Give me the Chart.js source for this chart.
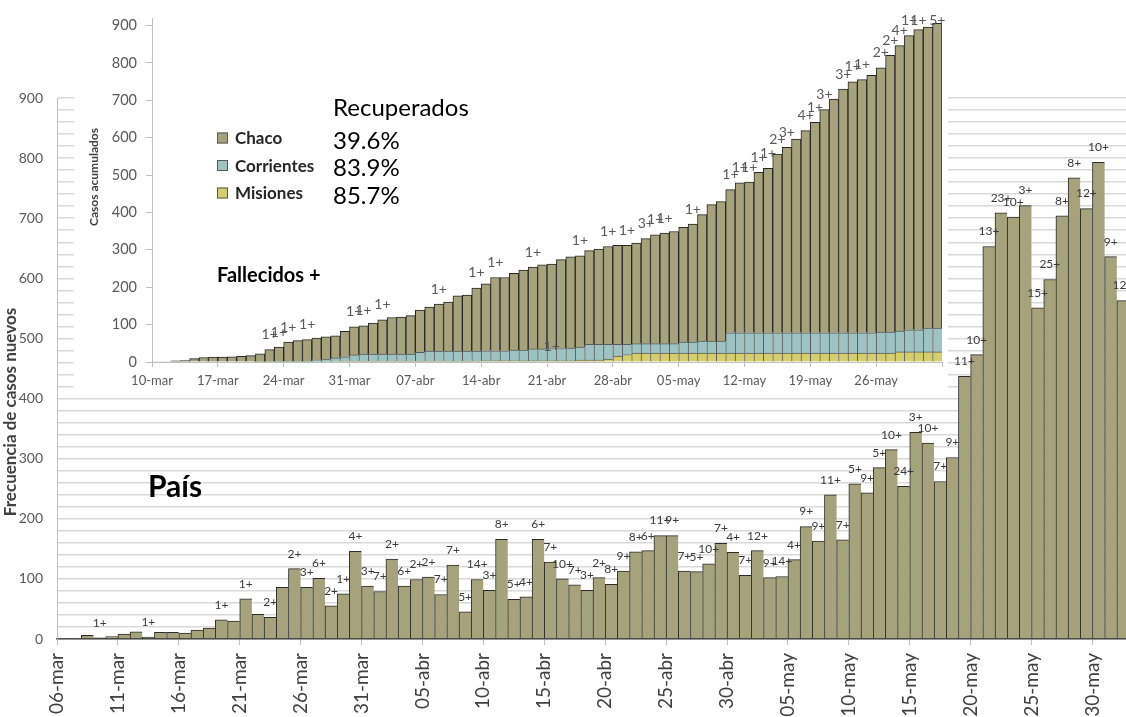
<!DOCTYPE html>
<html lang="es">
<head>
<meta charset="utf-8">
<title>Casos nuevos y acumulados</title>
<script src="https://cdn.jsdelivr.net/npm/chart.js@4.4.1/dist/chart.umd.min.js"></script>
<style>
  html, body { margin:0; padding:0; background:#fff; overflow:hidden; width:1126px; height:717px; }
  #main { position:absolute; left:0; top:0; width:1135px; height:730px; }
  #inset { position:absolute; left:74px; top:0; width:874px; height:393px; background:#fff; }
</style>
</head>
<body>
<div id="main"><canvas id="cPais"></canvas></div>
<div id="inset"><canvas id="cProv"></canvas></div>
<script>
// Pais: casos nuevos por dia desde 06-mar (88 dias)
var casosPais = [1,1,6,2,4,8,12,3,11,11,
  10,15,18,32,30,67,41,36,86,117,
  86,101,55,75,146,88,79,133,88,99,
  103,74,123,45,99,81,166,66,70,166,
  128,100,90,81,102,91,113,145,147,172,
  172,113,112,125,159,144,106,147,102,104,
  132,187,163,240,165,258,243,285,315,254,
  344,326,262,302,437,473,653,709,702,721,
  551,598,704,767,716,793,636,563];
// fallecidos del dia (etiqueta "n+")
var fallecidosPais = [null,null,null,1,null,null,null,1,null,null,
  null,null,null,1,null,1,null,2,null,2,
  3,6,2,1,4,3,7,2,6,2,
  2,7,7,5,14,3,8,5,4,6,
  7,10,7,3,2,8,9,8,6,11,
  9,7,5,10,7,4,7,12,9,14,
  4,9,9,11,7,5,9,5,10,24,
  3,10,7,9,11,10,13,23,10,3,
  15,25,8,8,12,10,9,12];
var ticksPais = ['06-mar','11-mar','16-mar','21-mar','26-mar','31-mar','05-abr','10-abr','15-abr',
  '20-abr','25-abr','30-abr','05-may','10-may','15-may','20-may','25-may','30-may'];

// Provincias: casos acumulados desde 10-mar (84 dias)
var chaco = [1,1,3,4,9,12,13,13,14,15,
  17,21,31,38,51,55,58,58,59,59,
  68,75,76,83,92,98,99,103,113,118,
  126,131,148,150,169,179,196,196,205,214,
  219,225,226,238,244,244,251,255,262,265,
  265,269,281,291,296,300,307,316,338,365,
  373,383,401,403,429,440,478,496,518,541,
  563,597,625,652,671,677,689,707,740,763,
  787,803,805,815];
var corrientes = [0,0,0,0,0,0,0,0,0,0,
  0,0,1,1,1,1,1,5,7,10,
  12,17,19,19,19,19,19,19,24,27,
  27,27,27,27,27,27,27,27,29,29,
  32,32,33,33,34,35,42,42,39,31,
  27,25,25,25,25,25,29,29,32,32,
  32,54,54,54,54,54,54,54,54,54,
  54,54,54,54,54,54,54,56,56,56,
  59,59,64,64];
var misiones = [0,0,0,0,0,0,0,0,0,0,
  0,1,1,1,1,1,1,1,1,1,
  2,2,2,2,2,2,2,2,2,2,
  2,2,2,2,2,3,3,3,3,3,
  3,3,3,3,3,5,5,5,8,16,
  20,24,24,24,24,24,24,24,24,24,
  24,24,24,24,24,24,24,24,24,24,
  24,24,24,24,24,24,24,24,24,27,
  27,27,27,27];
var fallecidosChaco = [null,null,null,null,null,null,null,null,null,null,
  null,null,1,1,1,null,1,null,null,null,
  null,1,1,null,1,null,null,null,null,null,
  1,null,null,null,1,null,1,null,null,null,
  1,null,null,null,null,1,null,null,1,null,
  1,null,3,1,1,null,null,1,null,null,
  null,1,1,1,1,1,2,3,null,4,
  1,3,null,3,1,1,null,2,2,4,
  1,1,null,5];
var fallecidosCorrientes = [null,null,null,null,null,null,null,null,null,null,
  null,null,null,null,null,null,null,null,null,null,
  null,null,null,null,null,null,null,null,null,null,
  null,null,null,null,null,null,null,null,null,null,
  null,null,1,null,null,null,null,null,null,null,
  null,null,null,null,null,null,null,null,null,null,
  null,null,null,null,null,null,null,null,null,null,
  null,null,null,null,null,null,null,null,null,null,
  null,null,null,null];
var ticksProv = ['10-mar','17-mar','24-mar','31-mar','07-abr','14-abr','21-abr','28-abr','05-may','12-may','19-may','26-may'];
var provincias = ['Chaco', 'Corrientes', 'Misiones'];
var recuperados = ['39.6%', '83.9%', '85.7%'];

var colChaco = '#a6a37c', colCorr = '#9dc3c3', colMis = '#d6cd6d';
Chart.defaults.font.family = 'Lato, sans-serif';

function puntos(arr) { return arr.map(function(v, i) { return {x: i + 0.5, y: v}; }); }

// ---------- grafico principal (Pais) ----------
var etiquetasPais = {
  id: 'etiquetasPais',
  afterDatasetsDraw: function(chart) {
    var ctx = chart.ctx, sx = chart.scales.x, sy = chart.scales.y;
    ctx.save();
    ctx.font = '12px Lato';
    ctx.fillStyle = '#3a3a3a';
    ctx.textAlign = 'center';
    ctx.textBaseline = 'middle';
    fallecidosPais.forEach(function(f, i) {
      if (f == null) return;
      ctx.fillText(f + '+', sx.getPixelForValue(i + 0.5), sy.getPixelForValue(casosPais[i]) - 15);
    });
    ctx.font = 'bold 30px Lato';
    ctx.fillStyle = '#000';
    ctx.textAlign = 'left';
    ctx.fillText('País', 148, 487);
    ctx.translate(11, 412);
    ctx.rotate(-Math.PI / 2);
    ctx.font = 'bold 17px Lato';
    ctx.fillStyle = '#404040';
    ctx.textAlign = 'center';
    ctx.fillText('Frecuencia de casos nuevos', 0, 0);
    ctx.restore();
  }
};

new Chart(document.getElementById('cPais'), {
  type: 'bar',
  data: { datasets: [{
    data: puntos(casosPais),
    backgroundColor: colChaco,
    borderColor: '#2b2b2b',
    borderWidth: {top: 1, left: 1, right: 0, bottom: 0},
    barPercentage: 1, categoryPercentage: 1
  }]},
  options: {
    responsive: true, maintainAspectRatio: false, animation: false, devicePixelRatio: 1,
    layout: { padding: {top: 98, right: 6, bottom: 0, left: 0} },
    plugins: { legend: {display: false}, tooltip: {enabled: false} },
    scales: {
      x: {
        type: 'linear', min: 0, max: 88, offset: false,
        grid: { offset: false, drawOnChartArea: false, drawTicks: true, tickLength: 6, color: '#bfbfbf' },
        border: { color: '#404040', width: 1.5 },
        ticks: { stepSize: 5, includeBounds: false, autoSkip: false, minRotation: 90, maxRotation: 90, padding: 8,
          font: {size: 19}, color: '#404040',
          callback: function(v) { return ticksPais[v / 5] || ''; } },
        afterFit: function(s) { s.height = 91; }
      },
      y: {
        min: 0, max: 900,
        grid: { color: '#d9d9d9', lineWidth: 1.5, drawTicks: false },
        border: { color: '#bfbfbf', width: 1 },
        ticks: { stepSize: 20, autoSkip: false, padding: 14, font: {size: 14}, color: '#595959',
          callback: function(v) { return v % 100 === 0 ? v : ''; } },
        afterFit: function(s) { s.width = 57; }
      }
    }
  },
  plugins: [etiquetasPais]
});

// ---------- recuadro (provincias) ----------
var etiquetasProv = {
  id: 'etiquetasProv',
  afterDatasetsDraw: function(chart) {
    var ctx = chart.ctx, sx = chart.scales.x, sy = chart.scales.y;
    ctx.save();
    ctx.font = '14px Lato';
    ctx.fillStyle = '#595959';
    ctx.textAlign = 'center';
    ctx.textBaseline = 'middle';
    fallecidosChaco.forEach(function(f, i) {
      if (f == null) return;
      var tot = chaco[i] + corrientes[i] + misiones[i];
      ctx.fillText(f + '+', sx.getPixelForValue(i + 0.5), Math.max(20, sy.getPixelForValue(tot) - 15));
    });
    fallecidosCorrientes.forEach(function(f, i) {
      if (f == null) return;
      ctx.fillText(f + '+', sx.getPixelForValue(i + 0.5), sy.getPixelForValue(corrientes[i] + misiones[i]) - 2);
    });

    // leyenda
    var cols = [colChaco, colCorr, colMis], filas = [138, 165.5, 193];
    ctx.textAlign = 'left';
    provincias.forEach(function(p, i) {
      ctx.fillStyle = cols[i];
      ctx.fillRect(143, filas[i] - 5.5, 11, 11);
      ctx.strokeStyle = '#595959';
      ctx.lineWidth = 1;
      ctx.strokeRect(143.5, filas[i] - 5, 10, 10);
      ctx.fillStyle = '#262626';
      ctx.font = 'bold 17px Lato';
      ctx.fillText(p, 161, filas[i] + 1);
      ctx.fillStyle = '#000';
      ctx.font = '24px Lato';
      ctx.fillText(recuperados[i], 259, filas[i] + 3);
    });
    ctx.fillText('Recuperados', 259, 108);
    ctx.font = 'bold 20px Lato';
    ctx.fillText('Fallecidos +', 143, 276);

    ctx.translate(20, 177);
    ctx.rotate(-Math.PI / 2);
    ctx.font = 'bold 12px Lato';
    ctx.fillStyle = '#404040';
    ctx.textAlign = 'center';
    ctx.fillText('Casos acumulados', 0, 0);
    ctx.restore();
  }
};

new Chart(document.getElementById('cProv'), {
  type: 'bar',
  data: { datasets: [
    { label: 'Misiones', data: puntos(misiones), backgroundColor: colMis, borderColor: '#5a5a5a',
      borderWidth: {top: 1, left: 1, right: 0, bottom: 0}, barPercentage: 1, categoryPercentage: 1 },
    { label: 'Corrientes', data: puntos(corrientes), backgroundColor: colCorr, borderColor: '#5a5a5a',
      borderWidth: {top: 1, left: 1, right: 0, bottom: 0}, barPercentage: 1, categoryPercentage: 1 },
    { label: 'Chaco', data: puntos(chaco), backgroundColor: colChaco, borderColor: '#262626',
      borderWidth: {top: 1, left: 1, right: 1, bottom: 0}, barPercentage: 1, categoryPercentage: 1 }
  ]},
  options: {
    responsive: true, maintainAspectRatio: false, animation: false, devicePixelRatio: 1,
    layout: { padding: {top: 18, right: 6, bottom: 0, left: 0} },
    plugins: { legend: {display: false}, tooltip: {enabled: false} },
    scales: {
      x: {
        type: 'linear', min: 0, max: 84, stacked: true, offset: false,
        grid: { offset: false, drawOnChartArea: false, drawTicks: true, tickLength: 5, color: '#bfbfbf' },
        border: { color: '#bfbfbf', width: 1 },
        ticks: { stepSize: 7, includeBounds: false, autoSkip: false, maxRotation: 0, padding: 6,
          font: {size: 13}, color: '#595959',
          callback: function(v) { return ticksProv[v / 7] || ''; } },
        afterFit: function(s) { s.height = 31; }
      },
      y: {
        min: 0, max: 920, stacked: true,
        grid: { drawOnChartArea: false, drawTicks: true, tickLength: 6, color: '#bfbfbf' },
        border: { color: '#bfbfbf', width: 1 },
        ticks: { stepSize: 100, includeBounds: false, autoSkip: false, padding: 9, font: {size: 14.5}, color: '#595959' },
        afterFit: function(s) { s.width = 78; }
      }
    }
  },
  plugins: [etiquetasProv]
});
</script>
</body>
</html>
